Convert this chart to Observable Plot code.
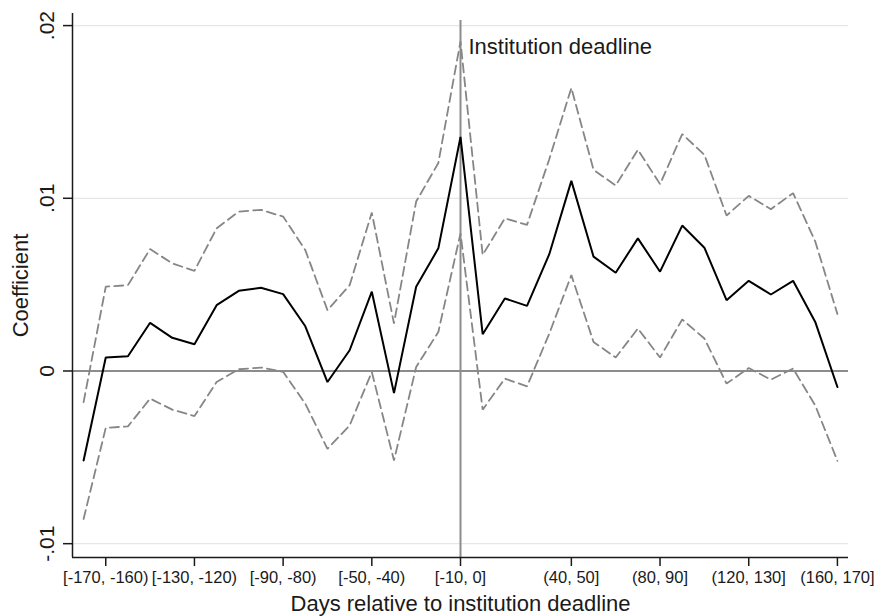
<!DOCTYPE html>
<html>
<head>
<meta charset="utf-8">
<script src="https://cdn.jsdelivr.net/npm/d3@7"></script>
<script src="https://cdn.jsdelivr.net/npm/@observablehq/plot@0.6"></script>
<style>
  html, body { margin: 0; padding: 0; background: #fff; }
  svg { display: block; }
</style>
</head>
<body>
<div id="chart"></div>
<script>
// 10-day bins indexed relative to the institution deadline bin [-10, 0] (index 0)
const binIndex = [-17,-16,-15,-14,-13,-12,-11,-10,-9,-8,-7,-6,-5,-4,-3,-2,-1,0,1,2,3,4,5,6,7,8,9,10,11,12,13,14,15,16,17];

const coef = [-0.00518, 0.00078, 0.00085, 0.00279, 0.00192, 0.00155, 0.00381, 0.00464, 0.00482,
  0.00445, 0.00259, -0.00064, 0.00120, 0.00459, -0.00128, 0.00488, 0.00710, 0.01355,
  0.00213, 0.00420, 0.00377, 0.00675, 0.01101, 0.00662, 0.00569, 0.00768, 0.00575,
  0.00842, 0.00714, 0.00410, 0.00522, 0.00443, 0.00522, 0.00284, -0.00093];

const upper = [-0.00180, 0.00488, 0.00497, 0.00706, 0.00623, 0.00580, 0.00826, 0.00923, 0.00933,
  0.00894, 0.00700, 0.00352, 0.00497, 0.00917, 0.00275, 0.00981, 0.01204, 0.01909,
  0.00672, 0.00884, 0.00846, 0.01225, 0.01639, 0.01165, 0.01074, 0.01281, 0.01082,
  0.01372, 0.01252, 0.00900, 0.01014, 0.00937, 0.01030, 0.00750, 0.00330];

const lower = [-0.00857, -0.00329, -0.00321, -0.00160, -0.00224, -0.00261, -0.00064, 0.00010, 0.00020,
  -0.00005, -0.00189, -0.00451, -0.00315, -0.00006, -0.00518, 0.00023, 0.00226, 0.00797,
  -0.00224, -0.00044, -0.00089, 0.00215, 0.00555, 0.00168, 0.00078, 0.00246, 0.00078,
  0.00298, 0.00188, -0.00073, 0.00017, -0.00050, 0.00014, -0.00200, -0.00520];

const xTickPos = [-16, -12, -8, -4, 0, 5, 9, 13, 17];
const xTickLabels = ["[-170, -160)", "[-130, -120)", "[-90, -80)", "[-50, -40)", "[-10, 0]",
  "(40, 50]", "(80, 90]", "(120, 130]", "(160, 170]"];

const yTickPos = [-0.01, 0, 0.01, 0.02];
const yTickLabels = ["-.01", "0", ".01", ".02"];

const deadlineBin = 0;
const annotation = "Institution deadline";
const xTitle = "Days relative to institution deadline";
const yTitle = "Coefficient";

const X0 = -17.5, X1 = 17.5, Y0 = -0.0108, Y1 = 0.0207;

const data = binIndex.map((b, i) => ({bin: b, coef: coef[i], upper: upper[i], lower: lower[i]}));

const chart = Plot.plot({
  width: 874,
  height: 616,
  marginLeft: 72,
  marginRight: 26,
  marginTop: 13,
  marginBottom: 59,
  style: {
    fontFamily: "'Liberation Sans', Arial, Helvetica, sans-serif",
    fontSize: "16.5px",
    background: "#fff",
    color: "#1a1a1a"
  },
  x: {domain: [X0, X1], axis: null},
  y: {domain: [Y0, Y1], axis: null},
  marks: [
    Plot.ruleY(yTickPos.filter(d => d !== 0), {stroke: "#e6e6e6", strokeWidth: 1.3}),
    Plot.ruleY([0], {stroke: "#8c8c8c", strokeWidth: 2}),
    Plot.ruleX([deadlineBin], {y1: Y0, y2: 0.0203, stroke: "#8c8c8c", strokeWidth: 2}),
    Plot.line(data, {x: "bin", y: "upper", stroke: "#868686", strokeWidth: 1.8, strokeDasharray: "9,5", strokeLinejoin: "miter"}),
    Plot.line(data, {x: "bin", y: "lower", stroke: "#868686", strokeWidth: 1.8, strokeDasharray: "9,5", strokeLinejoin: "miter"}),
    Plot.line(data, {x: "bin", y: "coef", stroke: "#000", strokeWidth: 2, strokeLinejoin: "miter"}),
    Plot.ruleX([X0], {stroke: "#1a1a1a", strokeWidth: 1.5}),
    Plot.ruleY([Y0], {stroke: "#1a1a1a", strokeWidth: 1.5}),
    Plot.axisX({
      ticks: xTickPos,
      tickFormat: d => xTickLabels[xTickPos.indexOf(d)],
      tickSize: 9,
      tickPadding: 5,
      strokeWidth: 1.5,
      label: null
    }),
    Plot.axisY({ticks: yTickPos, tickFormat: () => "", tickSize: 9, strokeWidth: 1.5, label: null}),
    Plot.text(yTickPos, {
      y: d => d,
      text: (d, i) => yTickLabels[i],
      frameAnchor: "left",
      dx: -19,
      rotate: -90,
      textAnchor: "middle",
      lineAnchor: "bottom",
      fontSize: 21
    }),
    Plot.text([yTitle], {
      frameAnchor: "left",
      dx: -45,
      rotate: -90,
      textAnchor: "middle",
      lineAnchor: "bottom",
      fontSize: 22
    }),
    Plot.text([xTitle], {
      frameAnchor: "bottom",
      dy: 53,
      lineAnchor: "bottom",
      fontSize: 22
    }),
    Plot.text([annotation], {
      x: deadlineBin,
      frameAnchor: "top",
      dx: 8,
      dy: 40,
      textAnchor: "start",
      lineAnchor: "bottom",
      fontSize: 22
    })
  ]
});

document.getElementById("chart").appendChild(chart);
</script>
</body>
</html>
